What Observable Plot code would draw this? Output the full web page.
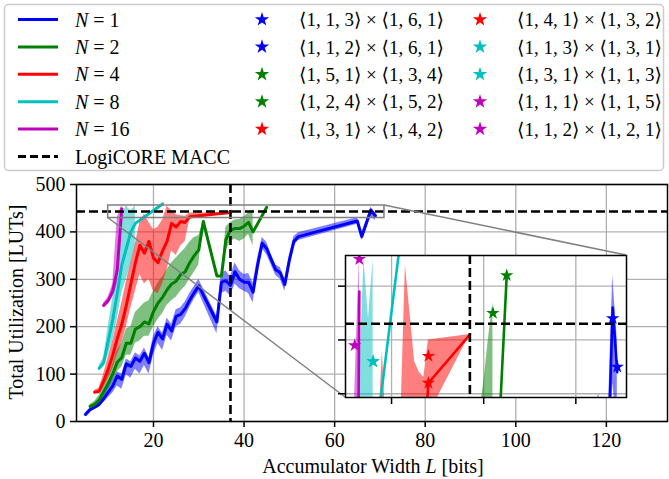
<!DOCTYPE html>
<html>
<head>
<meta charset="utf-8">
<script src="https://cdn.jsdelivr.net/npm/d3@7"></script>
<script src="https://cdn.jsdelivr.net/npm/@observablehq/plot@0.6"></script>
<style>
  html, body { margin: 0; padding: 0; background: #fff; }
  #chart { position: relative; width: 669px; height: 479px; overflow: hidden; }
  #chart svg { position: absolute; }
  #chart svg, #chart text, #chart tspan { font-family: "Liberation Serif", "DejaVu Serif", serif !important; }
</style>
</head>
<body>
<div id="chart"></div>
<script>
// ---- Utilization vs. accumulator width, per tile count N (mean line, min/max band) ----
const seriesNames = ["1", "2", "4", "8", "16"];
const seriesColors = ["#0000ff", "#008000", "#ff0000", "#00bfbf", "#bf00bf"];

// N = 1
const widthsN1 = [5,6,7,8,9,10,11,12,13,14,15,16,17,18,19,20,21,22,23,24,25,26,27,28,29,30,34,35,36,37,38,39,40,41,42,43,44,45,46,47,48,49,50,51,52,65,66,68,69];
const lutsN1   = [15,25,30,36,48,62,75,96,89,122,116,134,127,144,124,165,188,174,205,191,222,226,238,256,272,286,210,294,297,287,316,300,294,294,273,330,376,365,342,320,314,289,340,380,390,423,390,446,434];
const minN1    = [12,20,26,30,40,50,60,75,68,98,92,110,100,118,100,140,165,150,182,170,200,205,220,240,258,272,185,270,275,265,290,280,275,270,250,318,365,352,330,308,300,275,330,370,382,416,382,432,424];
const maxN1    = [18,28,34,42,56,72,88,105,100,132,126,145,138,155,135,180,200,186,218,205,236,240,252,270,285,300,222,312,318,305,335,318,310,312,292,345,388,378,352,330,325,300,350,390,398,430,398,452,440];

// N = 2
const widthsN2 = [6,7,8,9,10,11,12,13,14,15,16,17,18,19,20,21,22,23,24,25,26,27,28,29,30,31,34,35,36,37,38,39,40,41,42,45];
const lutsN2   = [32,36,45,63,80,100,125,135,165,165,195,200,210,206,232,250,262,278,290,296,310,316,335,350,362,422,307,307,384,404,407,407,412,420,400,452];
const minN2    = [28,30,38,52,68,85,105,115,140,140,165,170,180,180,200,215,228,245,255,262,275,285,300,315,330,422,307,307,360,380,385,380,385,395,370,null];
const maxN2    = [36,42,55,75,95,120,150,165,195,200,230,240,250,255,275,292,305,320,335,345,355,365,378,388,392,422,307,307,410,420,425,426,432,440,447,null];

// N = 4
const widthsN4 = [7,8,9,10,11,12,13,14,15,16,17,18,19,20,21,22,23,24,25,26,27,28,37];
const lutsN4   = [62,64,85,110,140,175,205,245,290,335,372,355,380,345,335,360,380,418,410,422,420,432,441];
const minN4    = [58,58,72,90,112,140,165,200,240,275,310,290,300,275,270,290,320,360,350,370,380,426,441];
const maxN4    = [66,70,100,135,170,210,250,295,335,375,420,438,420,405,410,425,454,445,436,434,433,440,441];

// N = 8
const widthsN8 = [8,9,10,11,12,13,14,15,16,22];
const lutsN8   = [112,124,170,215,270,330,365,400,418,459];
const minN8    = [108,115,140,170,215,270,300,330,370,null];
const maxN8    = [118,135,200,260,310,432,455,444,455,null];

// N = 16
const widthsN16 = [9,10,11,12,13];
const lutsN16   = [245,255,275,320,449];
const minN16    = [240,248,262,290,440];
const maxN16    = [250,262,290,430,456];

// Highlighted designs (shown in the zoomed view)
const starLabels = ["⟨1, 1, 3⟩ × ⟨1, 6, 1⟩", "⟨1, 1, 2⟩ × ⟨1, 6, 1⟩", "⟨1, 5, 1⟩ × ⟨1, 3, 4⟩", "⟨1, 2, 4⟩ × ⟨1, 5, 2⟩", "⟨1, 3, 1⟩ × ⟨1, 4, 2⟩",
                    "⟨1, 4, 1⟩ × ⟨1, 3, 2⟩", "⟨1, 1, 3⟩ × ⟨1, 3, 1⟩", "⟨1, 3, 1⟩ × ⟨1, 1, 3⟩", "⟨1, 1, 1⟩ × ⟨1, 1, 5⟩", "⟨1, 1, 2⟩ × ⟨1, 2, 1⟩"];
const starSeries = [0, 0, 1, 1, 2, 2, 3, 3, 4, 4];
const starWidths = [68, 69, 45, 42, 28, 28, 16, 16, 13, 12];
const starLuts   = [444, 435, 452, 445, 437, 432, 436, 436, 455, 439];

// Reference IP core
const logicoreLabel = "LogiCORE MACC";
const logicoreWidth = 37;
const logicoreLuts = 443;

// Axes
const xTicks = [20, 40, 60, 80, 100, 120];
const yTicks = [0, 100, 200, 300, 400, 500];
const xRange = [3, 133.5];
const yRange = [0, 500];
const xLabel = ["Accumulator Width ", "L", " [bits]"];
const yLabel = "Total Utilization [LUTs]";

// Zoomed region
const zoomWidths = [10, 71];
const zoomLuts = [429.3, 455.7];
const zoomXTicks = [20, 40, 60];
const zoomYTicks = [430, 440, 450];

// ---- build tables ----
const raw = [
  [widthsN1, lutsN1, minN1, maxN1],
  [widthsN2, lutsN2, minN2, maxN2],
  [widthsN4, lutsN4, minN4, maxN4],
  [widthsN8, lutsN8, minN8, maxN8],
  [widthsN16, lutsN16, minN16, maxN16]
];
const series = raw.map(([w, v, lo, hi], i) => ({
  color: seriesColors[i],
  rows: w.map((L, j) => ({L, v: v[j], lo: lo[j], hi: hi[j]}))
}));
const stars = starWidths.map((L, i) => ({L, v: starLuts[i], color: seriesColors[starSeries[i]], label: starLabels[i]}));

const FONT = '"Liberation Serif", "DejaVu Serif", serif';
const dash = "9,4";

function dataMarks(clip, lw) {
  const m = [];
  for (const s of series) m.push(Plot.areaY(s.rows, {x: "L", y1: "lo", y2: "hi", fill: s.color, fillOpacity: 0.5, clip}));
  for (const s of series) m.push(Plot.line(s.rows, {x: "L", y: "v", stroke: s.color, strokeWidth: lw, clip}));
  m.push(Plot.ruleX([logicoreWidth], {stroke: "black", strokeWidth: 2.6, strokeDasharray: dash, clip}));
  m.push(Plot.ruleY([logicoreLuts], {stroke: "black", strokeWidth: 2.6, strokeDasharray: dash, clip}));
  return m;
}

const chart = d3.select("#chart");

// ---- legend ----
const legend = chart.append("svg").attr("width", 669).attr("height", 176).style("left", "0px").style("top", "0px")
  .attr("font-family", FONT).attr("font-size", 20);
legend.append("rect").attr("x", 4.5).attr("y", 4.5).attr("width", 659).attr("height", 166).attr("rx", 4)
  .attr("fill", "#fff").attr("stroke", "#cccccc").attr("stroke-width", 1.5);
const rowY = i => 19.5 + i * 27.4;
seriesNames.forEach((n, i) => {
  legend.append("line").attr("x1", 18).attr("x2", 58).attr("y1", rowY(i)).attr("y2", rowY(i))
    .attr("stroke", seriesColors[i]).attr("stroke-width", 3);
  const t = legend.append("text").attr("x", 75).attr("y", rowY(i)).attr("dy", "0.35em");
  t.append("tspan").attr("font-style", "italic").text("N");
  t.append("tspan").text(" = " + n);
});
legend.append("line").attr("x1", 18).attr("x2", 58).attr("y1", rowY(5)).attr("y2", rowY(5))
  .attr("stroke", "black").attr("stroke-width", 3).attr("stroke-dasharray", "8,4");
legend.append("text").attr("x", 75).attr("y", rowY(5)).attr("dy", "0.35em").text(logicoreLabel);
const starPath = d3.symbol(d3.symbolStar, 64)();
stars.forEach((s, i) => {
  const col = i < 5 ? 0 : 1, row = i % 5;
  const sx = col === 0 ? 262 : 480, tx = col === 0 ? 299 : 517;
  legend.append("path").attr("d", starPath).attr("transform", `translate(${sx},${rowY(row)})`).attr("fill", s.color);
  legend.append("text").attr("x", tx).attr("y", rowY(row)).attr("dy", "0.35em").attr("font-size", 19).text(s.label);
});

// ---- main chart ----
const mainTop = 172;
const main = Plot.plot({
  width: 669, height: 307,
  marginLeft: 76, marginRight: 2, marginTop: 12, marginBottom: 58,
  x: {domain: xRange},
  y: {domain: yRange},
  style: {fontFamily: FONT, fontSize: "20px", color: "black", background: "white", overflow: "visible"},
  marks: [
    Plot.gridX(xTicks, {stroke: "#b0b0b0", strokeOpacity: 1, strokeWidth: 1.3}),
    Plot.gridY(yTicks, {stroke: "#b0b0b0", strokeOpacity: 1, strokeWidth: 1.3}),
    ...dataMarks(false, 3),
    Plot.rect([{x1: zoomWidths[0], x2: zoomWidths[1], y1: zoomLuts[0], y2: zoomLuts[1]}],
      {x1: "x1", x2: "x2", y1: "y1", y2: "y2", fill: "none", stroke: "#808080", strokeWidth: 1.5}),
    Plot.frame({stroke: "black", strokeWidth: 1.5}),
    Plot.axisX({ticks: xTicks, tickSize: 6, tickPadding: 5, tickFormat: d3.format("d"), label: null, strokeWidth: 1.5}),
    Plot.axisY({ticks: yTicks, tickSize: 6, tickPadding: 5, tickFormat: d3.format("d"), label: null, strokeWidth: 1.5})
  ]
});
d3.select(main).style("left", "0px").style("top", mainTop + "px");
chart.node().appendChild(main);

// axis titles
const ms = d3.select(main);
const xt = ms.append("text").attr("x", 373).attr("y", 466 - mainTop).attr("dy", "0.35em")
  .attr("text-anchor", "middle").attr("font-family", FONT).attr("font-size", 20).attr("fill", "black");
xt.append("tspan").text(xLabel[0]);
xt.append("tspan").attr("font-style", "italic").text(xLabel[1]);
xt.append("tspan").text(xLabel[2]);
ms.append("text").attr("transform", `translate(16,${302 - mainTop}) rotate(-90)`).attr("dy", "0.35em")
  .attr("text-anchor", "middle").attr("font-family", FONT).attr("font-size", 20).attr("fill", "black").text(yLabel);

// ---- zoomed view ----
const insetLeft = 335, insetTop = 245, insetW = 300, insetH = 165;
const inM = {left: 10, top: 10, right: 9, bottom: 13};
const inset = Plot.plot({
  width: insetW, height: insetH,
  marginLeft: inM.left, marginTop: inM.top, marginRight: inM.right, marginBottom: inM.bottom,
  x: {domain: zoomWidths},
  y: {domain: zoomLuts},
  color: {type: "identity"},
  style: {background: "none", overflow: "visible"},
  marks: [
    Plot.frame({fill: "white", stroke: null}),
    Plot.gridX(zoomXTicks, {stroke: "#b0b0b0", strokeOpacity: 1, strokeWidth: 1.3}),
    Plot.gridY(zoomYTicks, {stroke: "#b0b0b0", strokeOpacity: 1, strokeWidth: 1.3}),
    ...dataMarks(true, 2.6),
    Plot.dot(stars, {x: "L", y: "v", fill: "color", stroke: null, symbol: "star", r: 4.2, clip: true}),
    Plot.frame({stroke: "black", strokeWidth: 1.5}),
    Plot.axisX({ticks: zoomXTicks, tickSize: 7, tickFormat: () => "", label: null, strokeWidth: 1.5}),
    Plot.axisY({ticks: zoomYTicks, tickSize: 7, tickFormat: () => "", label: null, strokeWidth: 1.5})
  ]
});
d3.select(inset).style("left", insetLeft + "px").style("top", insetTop + "px");
chart.node().appendChild(inset);

// connectors from the zoom box to the zoomed view
const sx = main.scale("x"), sy = main.scale("y");
const fL = insetLeft + inM.left, fR = insetLeft + insetW - inM.right;
const fT = insetTop + inM.top - mainTop, fB = insetTop + insetH - inM.bottom - mainTop;
const connectors = [
  [sx.apply(zoomWidths[0]), sy.apply(zoomLuts[0]), fL, fB],
  [sx.apply(zoomWidths[1]), sy.apply(zoomLuts[1]), fR, fT]
];
connectors.forEach(([x1, y1, x2, y2]) => {
  ms.append("line").attr("x1", x1).attr("y1", y1).attr("x2", x2).attr("y2", y2)
    .attr("stroke", "#808080").attr("stroke-width", 1.5);
});
</script>
</body>
</html>
